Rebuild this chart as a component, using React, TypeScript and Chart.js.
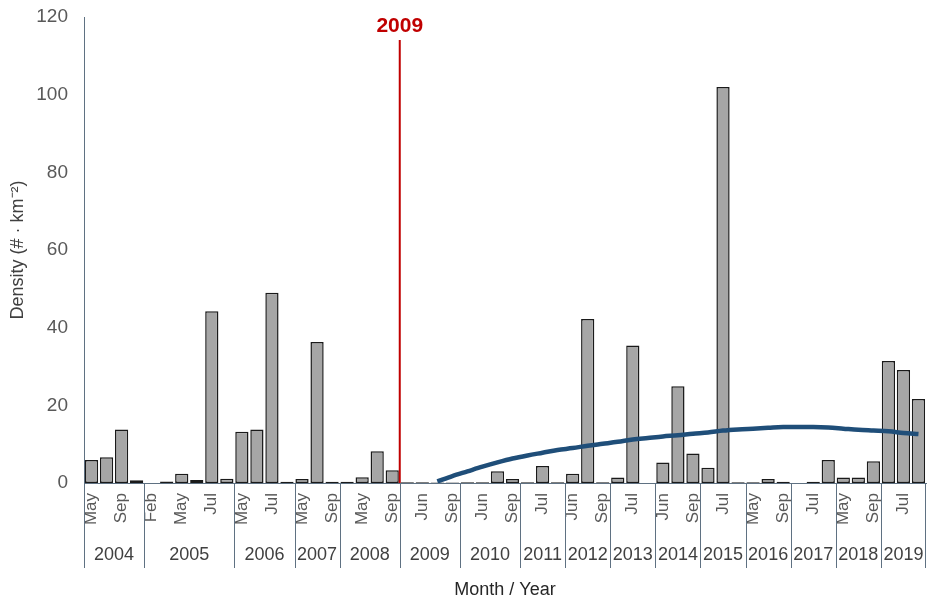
import React, { useEffect, useRef } from "react";
import { Chart, registerables } from "chart.js";

Chart.register(...registerables);

const years = ["2004", "2005", "2006", "2007", "2008", "2009", "2010", "2011", "2012", "2013", "2014", "2015", "2016", "2017", "2018", "2019"];
const yearCounts = [4, 6, 4, 3, 4, 4, 4, 3, 3, 3, 3, 3, 3, 3, 3, 3];

const months = [
  "May", "Jul", "Sep", "Nov",
  "Feb", "Apr", "May", "Jun", "Jul", "Sep",
  "May", "Jun", "Jul", "Sep",
  "May", "Jul", "Sep",
  "Apr", "May", "Jul", "Sep",
  "May", "Jun", "Jul", "Sep",
  "May", "Jun", "Jul", "Sep",
  "Jun", "Jul", "Sep",
  "Jun", "Jul", "Sep",
  "Jun", "Jul", "Sep",
  "Jun", "Jul", "Sep",
  "Jun", "Jul", "Sep",
  "May", "Jul", "Sep",
  "Jun", "Jul", "Sep",
  "May", "Jul", "Sep",
  "Jun", "Jul", "Sep",
];

const density = [
  5.9, 6.6, 13.8, 0.7,
  0, 0.4, 2.4, 0.8, 44.2, 1.1,
  13.2, 13.8, 49.0, 0.3,
  1.0, 36.3, 0.3,
  0.3, 1.5, 8.2, 3.3,
  0.2, 0.2, 0.1, 0.1,
  0.2, 0.2, 3.0, 1.0,
  0.2, 4.4, 0.2,
  2.4, 42.2, 0.2,
  1.4, 35.4, 0,
  5.3, 24.9, 7.6,
  3.9, 102.0, 0.2,
  0.2, 1.0, 0.3,
  0, 0.3, 5.9,
  1.4, 1.4, 5.6,
  31.4, 29.1, 21.6,
];

const trend = [
  null, null, null, null,
  null, null, null, null, null, null,
  null, null, null, null,
  null, null, null,
  null, null, null, null,
  null, null, 0.4, 1.8,
  3.0, 4.2, 5.3, 6.3,
  7.1, 7.8, 8.5,
  9.0, 9.6, 10.1,
  10.6, 11.2, 11.6,
  12.0, 12.3, 12.7,
  13.0, 13.5, 13.8,
  14.0, 14.2, 14.4,
  14.4, 14.4, 14.3,
  14.0, 13.7, 13.5,
  13.3, 12.9, 12.6,
];

const yMin = 0;
const yMax = 120;
const yStep = 20;
const markerLabel = "2009";
const markerAfterIndex = 20;

const FONT = "'Liberation Sans', Arial, sans-serif";
const AXIS_COLOR = "#5f7182";

const yearAxisPlugin = {
  id: "yearAxis",
  afterDraw(chart: any) {
    const x = chart.scales.x;
    const area = chart.chartArea;
    const ctx = chart.ctx;
    const n = months.length;
    const w = (x.right - x.left) / n;
    ctx.save();
    ctx.strokeStyle = AXIS_COLOR;
    ctx.lineWidth = 1;
    let idx = 0;
    const edge = (i: number) => x.getPixelForValue(i) - w / 2;
    const drawDivider = (px: number) => {
      ctx.beginPath();
      ctx.moveTo(Math.round(px) + 0.5, area.bottom);
      ctx.lineTo(Math.round(px) + 0.5, area.bottom + 85);
      ctx.stroke();
    };
    drawDivider(edge(0));
    ctx.fillStyle = "#404040";
    ctx.font = `18px ${FONT}`;
    ctx.textAlign = "center";
    ctx.textBaseline = "middle";
    years.forEach((yr, gi) => {
      const start = edge(idx);
      const end = edge(idx + yearCounts[gi]);
      drawDivider(Math.min(end, x.right - 1));
      ctx.fillText(yr, (start + end) / 2, area.bottom + 72);
      idx += yearCounts[gi];
    });
    ctx.restore();
  },
};

const markerPlugin = {
  id: "marker2009",
  afterDatasetsDraw(chart: any) {
    const x = chart.scales.x;
    const area = chart.chartArea;
    const ctx = chart.ctx;
    const w = (x.right - x.left) / months.length;
    const px = x.getPixelForValue(markerAfterIndex) + w / 2;
    ctx.save();
    ctx.strokeStyle = "#c00000";
    ctx.lineWidth = 2;
    ctx.beginPath();
    ctx.moveTo(px, area.top + 23);
    ctx.lineTo(px, area.bottom);
    ctx.stroke();
    ctx.fillStyle = "#c00000";
    ctx.font = `bold 21px ${FONT}`;
    ctx.textAlign = "center";
    ctx.textBaseline = "middle";
    ctx.fillText(markerLabel, px, area.top + 9);
    ctx.restore();
  },
};

export default function App() {
  const ref = useRef<HTMLCanvasElement | null>(null);
  useEffect(() => {
    if (!ref.current) return;
    const chart = new Chart(ref.current, {
      type: "bar",
      data: {
        labels: months,
        datasets: [
          {
            type: "line",
            data: trend as any,
            borderColor: "#1f4e79",
            borderWidth: 4.5,
            pointRadius: 0,
            fill: false,
            cubicInterpolationMode: "monotone",
            spanGaps: false,
            order: 0,
          } as any,
          {
            type: "bar",
            data: density,
            backgroundColor: "#a6a6a6",
            borderColor: "#1a1a1a",
            borderWidth: 1.5,
            borderSkipped: false,
            categoryPercentage: 1.0,
            barPercentage: 0.88,
            order: 1,
          } as any,
        ],
      },
      options: {
        animation: false,
        responsive: true,
        maintainAspectRatio: false,
        layout: { padding: { top: 17, right: 2, left: 0, bottom: 0 } },
        plugins: { legend: { display: false }, tooltip: { enabled: false } },
        scales: {
          x: {
            grid: { display: false, drawTicks: false },
            border: { display: true, color: AXIS_COLOR, width: 1 },
            ticks: {
              autoSkip: false,
              minRotation: 90,
              maxRotation: 90,
              padding: 10,
              color: "#595959",
              font: { family: FONT, size: 17 },
              callback: (_v: any, i: number) => (i % 2 === 0 ? months[i] : ""),
            },
            title: {
              display: true,
              text: "Month / Year",
              color: "#262626",
              font: { family: FONT, size: 18 },
              padding: { top: 0, bottom: 4 },
            },
            afterFit: (scale: any) => {
              scale.height = 122;
              scale.paddingLeft = 0;
              scale.paddingRight = 0;
            },
          },
          y: {
            min: yMin,
            max: yMax,
            grid: { display: false, drawTicks: false },
            border: { display: true, color: AXIS_COLOR, width: 1 },
            ticks: {
              stepSize: yStep,
              padding: 16,
              color: "#595959",
              font: { family: FONT, size: 19 },
            },
            title: {
              display: true,
              text: "Density (# · km⁻²)",
              color: "#404040",
              font: { family: FONT, size: 18 },
              padding: { top: 7, bottom: 0 },
            },
            afterFit: (scale: any) => {
              scale.width = 84;
              scale.paddingTop = 0;
              scale.paddingBottom = 0;
            },
          },
        },
      },
      plugins: [yearAxisPlugin, markerPlugin],
    });
    return () => chart.destroy();
  }, []);
  return (
    <div style={{ position: "fixed", left: 0, top: 0, width: 928, height: 605, background: "#fff" }}>
      <canvas ref={ref} />
    </div>
  );
}
